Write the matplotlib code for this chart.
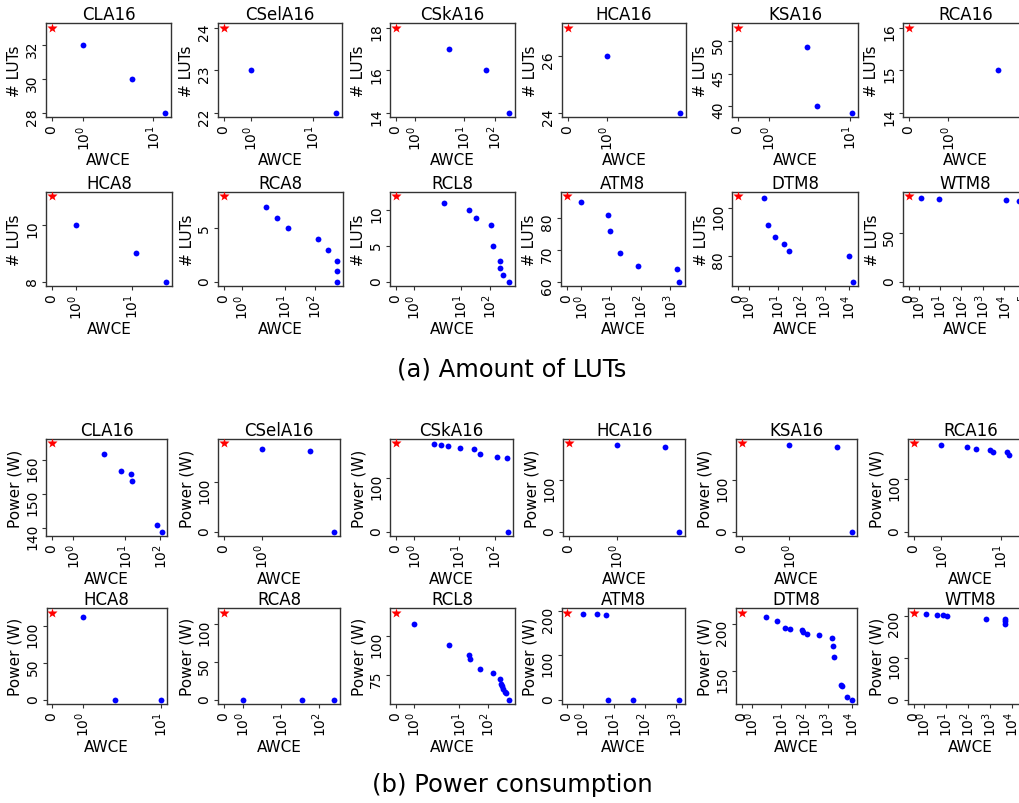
import matplotlib
matplotlib.use('Agg')
import matplotlib.pyplot as plt
from matplotlib.ticker import NullLocator

# ---------------- (a) Amount of LUTs ----------------
lut_names = ['CLA16', 'CSelA16', 'CSkA16', 'HCA16', 'KSA16', 'RCA16',
             'HCA8', 'RCA8', 'RCL8', 'ATM8', 'DTM8', 'WTM8']
# exact (AWCE = 0) design, drawn as a red star
lut_star = [33, 24, 18, 27, 52, 16, 11, 8, 12, 87, 105, 87]

lut_cla16_awce = [1, 5.0, 14.9]
lut_cla16_val = [32, 30, 28]
lut_csela16_awce = [1, 23.3]
lut_csela16_val = [23, 22]
lut_cska16_awce = [3.33, 51, 294]
lut_cska16_val = [17, 16, 14]
lut_hca16_awce = [1, 6.9]
lut_hca16_val = [26, 24]
lut_ksa16_awce = [2.2, 3.17, 10.9]
lut_ksa16_val = [49, 40, 39]
lut_rca16_awce = [3.63, 6.8]
lut_rca16_val = [15, 14]
lut_hca8_awce = [1, 11.9, 41.3]
lut_hca8_val = [10, 9, 8]
lut_rca8_awce = [2.4, 5.5, 12.8, 128, 276, 568, 568, 568]
lut_rca8_val = [7, 6, 5, 4, 3, 2, 1, 0]
lut_rcl8_awce = [2.68, 19.5, 34, 112, 131, 229, 233, 283, 477]
lut_rcl8_val = [11, 10, 9, 8, 5, 3, 2, 1, 0]
lut_atm8_awce = [1, 7.7, 9.5, 20.4, 83, 1710, 2040]
lut_atm8_val = [85, 81, 76, 69, 65, 64, 60]
lut_dtm8_awce = [2.4, 3.7, 7.5, 17, 27.8, 9900, 14700]
lut_dtm8_val = [104, 93, 88, 85, 82, 80, 69]
lut_wtm8_awce = [1.24, 8.8, 11800, 50000, 68000]
lut_wtm8_val = [85, 84, 83, 82, 0]

# ---------------- (b) Power consumption ----------------
pow_names = lut_names
pow_star = [165, 179, 165, 170, 170, 169, 118, 115, 115, 197, 212, 207]

pow_cla16_awce = [2.38, 7.5, 14.4, 16.0, 83, 111]
pow_cla16_val = [162, 157, 156, 154, 141, 139]
pow_csela16_awce = [1, 3.7, 7.1]
pow_csela16_val = [167, 164, 0]
pow_cska16_awce = [2.05, 3.2, 5.15, 11.1, 26.6, 38.8, 118.7, 229, 232]
pow_cska16_val = [164, 162, 161, 157, 154, 146, 140, 137, 0]
pow_hca16_awce = [1, 3.0, 4.2]
pow_hca16_val = [166, 164, 0]
pow_ksa16_awce = [1, 3.0, 4.2]
pow_ksa16_val = [166, 164, 0]
pow_rca16_awce = [1, 2.7, 3.8, 6.5, 7.4, 12.6, 13.6, 27.4]
pow_rca16_val = [165, 163, 158, 156, 152, 152, 147, 0]
pow_hca8_awce = [1, 2.57, 10.1]
pow_hca8_val = [112, 0, 0]
pow_rca8_awce = [1, 35.7, 248]
pow_rca8_val = [0, 0, 0]
pow_rcl8_awce = [1.0, 4.43, 21.8, 24.2, 52, 144, 249, 270, 304, 329, 388, 421, 539]
pow_rcl8_val = [108, 94, 88, 85, 79, 76, 72, 69, 68, 66, 64, 63, 59]
pow_atm8_awce = [1, 3.0, 5.6, 6.7, 40, 1270]
pow_atm8_val = [195, 194, 192, 0, 0, 0]
pow_dtm8_awce = [2.3, 6.2, 14.6, 22.3, 75.4, 85.7, 127, 405, 1510, 1550, 1780,
                 3560, 3800, 6650, 10250]
pow_dtm8_val = [207, 203, 196, 195, 193, 191, 189, 188, 185, 176, 165,
                135, 134, 122, 119]
pow_wtm8_awce = [1.3, 4.1, 7.4, 11.7, 692, 4850, 4850, 4850, 52000]
pow_wtm8_val = [204, 201, 201, 200, 193, 191, 186, 181, 0]

lut_series = [
    (lut_cla16_awce, lut_cla16_val), (lut_csela16_awce, lut_csela16_val),
    (lut_cska16_awce, lut_cska16_val), (lut_hca16_awce, lut_hca16_val),
    (lut_ksa16_awce, lut_ksa16_val), (lut_rca16_awce, lut_rca16_val),
    (lut_hca8_awce, lut_hca8_val), (lut_rca8_awce, lut_rca8_val),
    (lut_rcl8_awce, lut_rcl8_val), (lut_atm8_awce, lut_atm8_val),
    (lut_dtm8_awce, lut_dtm8_val), (lut_wtm8_awce, lut_wtm8_val),
]
pow_series = [
    (pow_cla16_awce, pow_cla16_val), (pow_csela16_awce, pow_csela16_val),
    (pow_cska16_awce, pow_cska16_val), (pow_hca16_awce, pow_hca16_val),
    (pow_ksa16_awce, pow_ksa16_val), (pow_rca16_awce, pow_rca16_val),
    (pow_hca8_awce, pow_hca8_val), (pow_rca8_awce, pow_rca8_val),
    (pow_rcl8_awce, pow_rcl8_val), (pow_atm8_awce, pow_atm8_val),
    (pow_dtm8_awce, pow_dtm8_val), (pow_wtm8_awce, pow_wtm8_val),
]

# symlog parameters (linthresh, linscale) per panel
lut_scale = [(1, 0.41), (1, 0.39), (2.7, 1.485), (1, 0.40), (2.2, 0.95), (1, 0.40),
             (1, 0.39), (2.4, 1.27), (2.68, 1.52), (1, 0.45), (2.4, 0.98), (1, 0.40)]
pow_scale = [(2.38, 1.345), (1, 0.40), (2.05, 0.967), (1, 0.43), (1, 0.43), (1, 0.41),
             (1, 0.353), (1, 0.457), (2.55, 1.444), (1, 0.44), (2.4, 0.98), (1, 0.405)]

# ---------------- layout (pixels) ----------------
W, H = 1020, 804
row_top = [24.3, 192.7, 440.0, 609.3]
row_bot = [118.3, 287.3, 537.0, 705.0]
row_left = [[46, 218, 390, 562, 732, 903],
            [46, 218.3, 390, 561, 732.3, 903.3],
            [46, 218.3, 390, 563.3, 736, 908.3],
            [46.7, 218.3, 390, 561.7, 736, 908.3]]
row_right = [[171, 341.7, 515, 686, 858, 1028],
             [172, 343, 515, 685, 858.3, 1028],
             [167.3, 340, 513.3, 685, 857.3, 1033],
             [166.7, 340, 515, 685, 857.3, 1033]]

fig = plt.figure(figsize=(W / 100, H / 100), dpi=100)

SPINE = '#333333'


def draw_panel(r, c, name, xs, ys, star, scale, ylabel):
    l, rr = row_left[r][c], row_right[r][c]
    t, b = row_top[r], row_bot[r]
    ax = fig.add_axes([l / W, 1 - b / H, (rr - l) / W, (b - t) / H])
    ax.set_xscale('symlog', linthresh=scale[0], linscale=scale[1])
    ax.plot(xs, ys, 'o', color='blue', ms=4.2, mec='none', zorder=3)
    ax.plot([0], [star], '*', color='red', ms=7, mec='none', zorder=4)
    ax.xaxis.set_minor_locator(NullLocator())
    ax.set_title(name, fontsize=12, pad=3)
    ax.set_xlabel('AWCE', fontsize=11, labelpad=2)
    ax.set_ylabel(ylabel, fontsize=11, labelpad=2)
    ax.tick_params(axis='both', labelsize=10, labelrotation=90, color=SPINE,
                   length=3, pad=2)
    for sp in ax.spines.values():
        sp.set_color(SPINE)
        sp.set_linewidth(1.0)
    return ax


for i, name in enumerate(lut_names):
    r, c = divmod(i, 6)
    xs, ys = lut_series[i]
    draw_panel(r, c, name, xs, ys, lut_star[i], lut_scale[i], '# LUTs')

for i, name in enumerate(pow_names):
    r, c = divmod(i, 6)
    xs, ys = pow_series[i]
    draw_panel(r + 2, c, name, xs, ys, pow_star[i], pow_scale[i], 'Power (W)')

fig.text(512 / W, 1 - 370 / H, '(a) Amount of LUTs', ha='center', va='center',
         fontsize=17.5)
fig.text(512 / W, 1 - 785 / H, '(b) Power consumption', ha='center', va='center',
         fontsize=17.5)

fig.savefig('out.png', dpi=100)
